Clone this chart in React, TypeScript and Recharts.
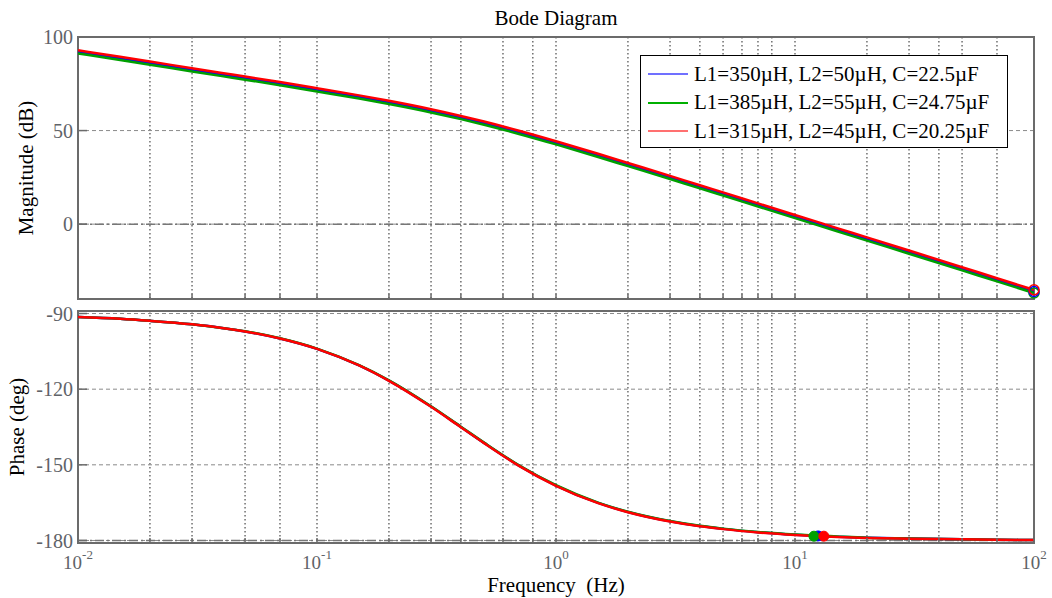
import React from "react";
import {
  ComposedChart,
  Line,
  XAxis,
  YAxis,
  CartesianGrid,
  ReferenceLine,
  ReferenceDot,
  ReferenceArea,
  Label,
} from "recharts";

// ── Data ──────────────────────────────────────────────────

const freqs = [
  0.01, 0.015, 0.02, 0.03, 0.04, 0.05, 0.07, 0.1, 0.15, 0.2, 0.3, 0.4, 0.5, 0.7,
  1, 1.5, 2, 3, 4, 5, 7, 10, 15, 20, 30, 50, 70, 100,
];

const magBlue = [
  92.0, 88.5, 86.0, 82.4, 79.9, 78.0, 75.0, 71.7, 67.9, 65.0, 60.5, 56.9, 53.9, 49.0,
  43.4, 36.7, 31.8, 24.9, 19.9, 16.1, 10.2, 4.0, -3.0, -8.0, -15.0, -23.9, -29.8, -36.0,
];
const magGreen = [
  91.2, 87.7, 85.2, 81.6, 79.1, 77.2, 74.2, 70.9, 67.1, 64.2, 59.7, 56.1, 53.1, 48.2,
  42.6, 35.9, 31.0, 24.1, 19.1, 15.3, 9.4, 3.2, -3.8, -8.8, -15.8, -24.7, -30.6, -36.8,
];
const magRed = [
  92.9, 89.4, 86.9, 83.3, 80.8, 78.9, 75.9, 72.6, 68.8, 65.9, 61.4, 57.8, 54.8, 49.9,
  44.3, 37.6, 32.7, 25.8, 20.8, 17.0, 11.1, 4.9, -2.1, -7.1, -14.1, -23.0, -28.9, -35.1,
];

const phaseBlue = [
  -91.4, -92.1, -92.9, -94.3, -95.7, -97.1, -99.9, -104.0, -110.6, -116.6, -126.9, -135.0,
  -141.3, -150.3, -158.2, -165.1, -168.7, -172.4, -174.3, -175.4, -176.7, -177.7, -178.5,
  -178.9, -179.2, -179.5, -179.7, -179.8,
];
const phaseGreen = [
  -91.4, -92.1, -92.9, -94.3, -95.7, -97.0, -99.8, -103.9, -110.5, -116.5, -126.8, -134.9,
  -141.2, -150.2, -158.1, -165.0, -168.6, -172.3, -174.2, -175.3, -176.6, -177.6, -178.4,
  -178.9, -179.2, -179.5, -179.7, -179.8,
];
const phaseRed = [
  -91.4, -92.1, -92.9, -94.3, -95.7, -97.1, -99.9, -104.0, -110.6, -116.7, -127.0, -135.1,
  -141.4, -150.4, -158.3, -165.2, -168.8, -172.5, -174.4, -175.5, -176.8, -177.8, -178.6,
  -179.0, -179.3, -179.5, -179.7, -179.8,
];

// crossover markers (phase plot) and end markers (magnitude plot)
const crossFreq = [12.5, 12.0, 13.2];
const crossPhase = [-178.2, -178.3, -178.3];
const endFreq = 100;
const endMag = [-36.0, -36.8, -35.1];

const seriesNames = [
  "L1=350µH, L2=50µH, C=22.5µF",
  "L1=385µH, L2=55µH, C=24.75µF",
  "L1=315µH, L2=45µH, C=20.25µF",
];
const seriesKeys = ["blue", "green", "red"];
const seriesColors = ["#0000ff", "#00a000", "#ff0000"];
const legendColors = ["#7070ff", "#00b000", "#ff7070"];

const freqTicks = [
  0.01, 0.02, 0.03, 0.04, 0.05, 0.06, 0.07, 0.08, 0.09,
  0.1, 0.2, 0.3, 0.4, 0.5, 0.6, 0.7, 0.8, 0.9,
  1, 2, 3, 4, 5, 6, 7, 8, 9,
  10, 20, 30, 40, 50, 60, 70, 80, 90, 100,
];
const decadeTicks = [0.01, 0.1, 1, 10, 100];
const decadeExps = ["-2", "-1", "0", "1", "2"];
const magTicks = [0, 50, 100];
const phaseTicks = [-180, -150, -120, -90];

const magData = freqs.map((f, i) => ({
  f,
  blue: magBlue[i],
  green: magGreen[i],
  red: magRed[i],
}));
const phaseData = freqs.map((f, i) => ({
  f,
  blue: phaseBlue[i],
  green: phaseGreen[i],
  red: phaseRed[i],
}));

// ── Styles ────────────────────────────────────────────────

const FONT = "'Liberation Serif', 'Times New Roman', serif";
const AXIS = "#6b6b6b";
const TICK_TEXT = "#5f6368";

// ── Sub-components ────────────────────────────────────────

const FreqTick = (props: any) => {
  const { x, y, payload, show } = props;
  const i = decadeTicks.indexOf(payload.value);
  if (!show || i < 0) return <g />;
  return (
    <text x={x} y={y} textAnchor="middle" fill={TICK_TEXT} fontFamily={FONT}>
      <tspan fontSize={19}>10</tspan>
      <tspan fontSize={13} dy={-10}>
        {decadeExps[i]}
      </tspan>
    </text>
  );
};

const renderGrid = (dashLine: number) => [
  <CartesianGrid
    key="v"
    horizontal={false}
    stroke="#4a4a4a"
    strokeWidth={1.2}
    strokeDasharray="1.5 2.5"
  />,
  <CartesianGrid key="h" vertical={false} stroke="#8a8a8a" strokeDasharray="4 3" />,
  <ReferenceLine
    key="dd"
    y={dashLine}
    stroke="#777"
    strokeWidth={1.5}
    strokeDasharray="9 3 2 3"
  />,
];

const renderLines = () =>
  seriesKeys.map((k, i) => (
    <Line
      key={k}
      type="monotone"
      dataKey={k}
      stroke={seriesColors[i]}
      strokeWidth={2.5}
      dot={false}
      isAnimationActive={false}
    />
  ));

// ── Component ─────────────────────────────────────────────

export default function App() {
  return (
    <div
      style={{
        position: "absolute",
        left: 0,
        top: 0,
        width: 1052,
        height: 598,
        background: "#fff",
        fontFamily: FONT,
      }}
    >
      {/* Magnitude */}
      <div style={{ position: "absolute", left: 0, top: 0 }}>
        <ComposedChart
          width={1052}
          height={300}
          data={magData}
          margin={{ top: 37, right: 18, bottom: 0, left: 38 }}
        >
          {renderGrid(0)}
          <XAxis
            dataKey="f"
            type="number"
            scale="log"
            domain={[0.01, 100]}
            ticks={freqTicks}
            allowDataOverflow
            height={1}
            axisLine={false}
            tickLine={{ stroke: AXIS, strokeWidth: 1.5 }}
            tickSize={-5}
            tick={<FreqTick show={false} />}
          />
          <YAxis
            type="number"
            domain={[-40, 100]}
            ticks={magTicks}
            allowDataOverflow
            width={40}
            axisLine={false}
            tickLine={{ stroke: AXIS, strokeWidth: 1.5 }}
            tickSize={-9}
            tickMargin={14}
            tick={{ fill: TICK_TEXT, fontSize: 20, fontFamily: FONT }}
          />
          {renderLines()}
          {[1, 0, 2].map((i) => (
            <ReferenceDot
              key={"e" + i}
              x={endFreq}
              y={endMag[i]}
              r={5}
              fill="none"
              stroke={seriesColors[i]}
              strokeWidth={1.5}
              ifOverflow="visible"
            />
          ))}
          <ReferenceArea
            x1={0.01}
            x2={100}
            y1={-40}
            y2={100}
            fill="none"
            fillOpacity={0}
            stroke={AXIS}
            strokeWidth={2}
            ifOverflow="visible"
          />
        </ComposedChart>
      </div>

      {/* Phase */}
      <div style={{ position: "absolute", left: 0, top: 300 }}>
        <ComposedChart
          width={1052}
          height={298}
          data={phaseData}
          margin={{ top: 11, right: 18, bottom: 0, left: 38 }}
        >
          {renderGrid(-180)}
          <XAxis
            dataKey="f"
            type="number"
            scale="log"
            domain={[0.01, 100]}
            ticks={freqTicks}
            allowDataOverflow
            height={55}
            axisLine={false}
            tickLine={{ stroke: AXIS, strokeWidth: 1.5 }}
            tickSize={-5}
            tickMargin={31}
            tick={<FreqTick show />}
          >
            <Label
              value={"Frequency\u00a0 (Hz)"}
              position="insideBottom"
              offset={6}
              fill="#000"
              fontSize={21}
              fontFamily={FONT}
            />
          </XAxis>
          <YAxis
            type="number"
            domain={[-181, -89]}
            ticks={phaseTicks}
            allowDataOverflow
            width={40}
            axisLine={false}
            tickLine={{ stroke: AXIS, strokeWidth: 1.5 }}
            tickSize={-9}
            tickMargin={14}
            tick={{ fill: TICK_TEXT, fontSize: 20, fontFamily: FONT }}
          />
          {renderLines()}
          {[0, 1, 2].map((i) => (
            <ReferenceDot
              key={"c" + i}
              x={crossFreq[i]}
              y={crossPhase[i]}
              r={5}
              fill={seriesColors[i]}
              stroke={seriesColors[i]}
              ifOverflow="visible"
            />
          ))}
          <ReferenceArea
            x1={0.01}
            x2={100}
            y1={-181}
            y2={-89}
            fill="none"
            fillOpacity={0}
            stroke={AXIS}
            strokeWidth={2}
            ifOverflow="visible"
          />
        </ComposedChart>
      </div>

      {/* Title and y labels */}
      <svg
        width={1052}
        height={598}
        style={{ position: "absolute", left: 0, top: 0, pointerEvents: "none" }}
      >
        <text x={556} y={25} textAnchor="middle" fontSize={21} fontFamily={FONT} fill="#000">
          Bode Diagram
        </text>
        <text
          transform="translate(33,168) rotate(-90)"
          textAnchor="middle"
          fontSize={21}
          fontFamily={FONT}
          fill="#000"
        >
          Magnitude (dB)
        </text>
        <text
          transform="translate(24,427) rotate(-90)"
          textAnchor="middle"
          fontSize={21}
          fontFamily={FONT}
          fill="#000"
        >
          Phase (deg)
        </text>
      </svg>

      {/* Legend */}
      <div
        style={{
          position: "absolute",
          left: 640,
          top: 55,
          width: 366,
          height: 91,
          border: "1.5px solid #000",
          background: "#fff",
          boxSizing: "content-box",
        }}
      >
        {seriesNames.map((name, i) => (
          <div
            key={name}
            style={{
              position: "absolute",
              left: 7,
              top: 4 + i * 28.5,
              height: 28,
              display: "flex",
              alignItems: "center",
              fontSize: 21,
              whiteSpace: "nowrap",
              color: "#000",
            }}
          >
            <span
              style={{
                display: "inline-block",
                width: 40,
                height: 0,
                borderTop: `2px solid ${legendColors[i]}`,
                marginRight: 6,
              }}
            />
            {name}
          </div>
        ))}
      </div>
    </div>
  );
}
